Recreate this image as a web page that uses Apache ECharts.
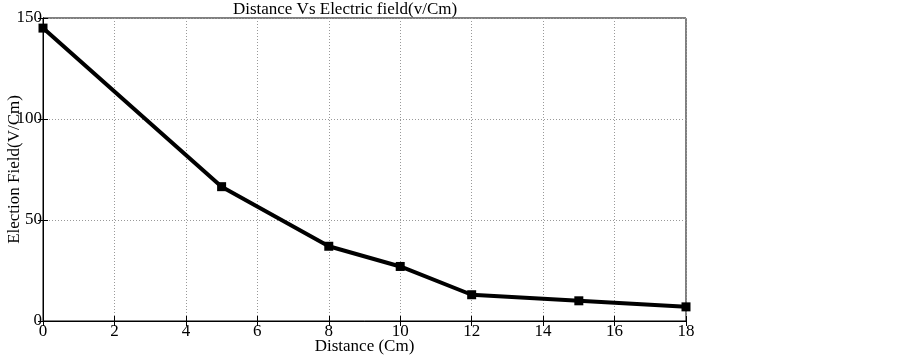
<!DOCTYPE html>
<html>
<head>
<meta charset="utf-8">
<script src="https://cdn.jsdelivr.net/npm/echarts@6/dist/echarts.min.js"></script>
<style>
  html, body { margin: 0; padding: 0; background: #fff; }
  #chart { width: 903px; height: 357px; }
</style>
</head>
<body>
<div id="chart"></div>
<script>
// distance in cm, field in V/Cm
const distance = [0, 5, 8, 10, 12, 15, 18];
const field = [145, 66.5, 37, 27, 13, 10, 7];
const xTicks = [0, 2, 4, 6, 8, 10, 12, 14, 16, 18];
const yTicks = [0, 50, 100, 150];

const serif = "Liberation Serif";

const chart = echarts.init(document.getElementById("chart"), null, { renderer: "canvas" });

const axisText = { color: "#000", fontFamily: serif, fontSize: 17 };

const option = {
  backgroundColor: "#fff",
  animation: false,
  title: {
    text: "Distance Vs Electric field(v/Cm)",
    left: 340,
    textAlign: "center",
    top: -4,
    textStyle: { color: "#000", fontFamily: serif, fontSize: 17, fontWeight: "normal" },
  },
  grid: {
    left: 43,
    right: 217,
    top: 18,
    bottom: 36,
    outerBoundsMode: "none",
    containLabel: false,
    show: true,
    borderColor: "#000",
    borderWidth: 1,
  },
  xAxis: [
    {
      type: "value",
      min: 0,
      max: 18,
      interval: 2,
      name: "Distance (Cm)",
      nameLocation: "middle",
      nameGap: 17,
      nameMoveOverlap: false,
      nameTextStyle: axisText,
      axisLine: { show: true, onZero: false, lineStyle: { color: "#000", width: 1 } },
      axisTick: { show: true, inside: true, length: 5, lineStyle: { color: "#000" } },
      axisLabel: Object.assign({ margin: 2, formatter: (v) => (xTicks.includes(v) ? String(v) : "") }, axisText),
      splitLine: { show: true, lineStyle: { color: "#999", type: [1, 2], width: 1 } },
    },
    {
      type: "value",
      position: "top",
      min: 0,
      max: 18,
      interval: 2,
      axisLine: { show: true, lineStyle: { color: "#000" } },
      axisTick: { show: true, inside: true, length: 5, lineStyle: { color: "#000" } },
      axisLabel: { show: false },
      splitLine: { show: false },
    },
  ],
  yAxis: [
    {
      type: "value",
      min: 0,
      max: 150,
      interval: 50,
      name: "Election Field(V/Cm)",
      nameLocation: "middle",
      nameGap: 20,
      nameMoveOverlap: false,
      nameTextStyle: axisText,
      axisLine: { show: true, onZero: false, lineStyle: { color: "#000", width: 1 } },
      axisTick: { show: true, inside: true, length: 5, lineStyle: { color: "#000" } },
      axisLabel: Object.assign({ margin: 1, formatter: (v) => (yTicks.includes(v) ? String(v) : "") }, axisText),
      splitLine: { show: true, lineStyle: { color: "#999", type: [1, 2], width: 1 } },
    },
    {
      type: "value",
      position: "right",
      min: 0,
      max: 150,
      interval: 50,
      axisLine: { show: true, lineStyle: { color: "#000" } },
      axisTick: { show: true, inside: true, length: 5, lineStyle: { color: "#000" } },
      axisLabel: { show: false },
      splitLine: { show: false },
    },
  ],
  series: [
    {
      type: "line",
      data: distance.map((d, i) => [d, field[i]]),
      symbol: "rect",
      symbolSize: 9,
      clip: false,
      lineStyle: { color: "#000", width: 4 },
      itemStyle: { color: "#000" },
    },
  ],
};

chart.setOption(option);
</script>
</body>
</html>
